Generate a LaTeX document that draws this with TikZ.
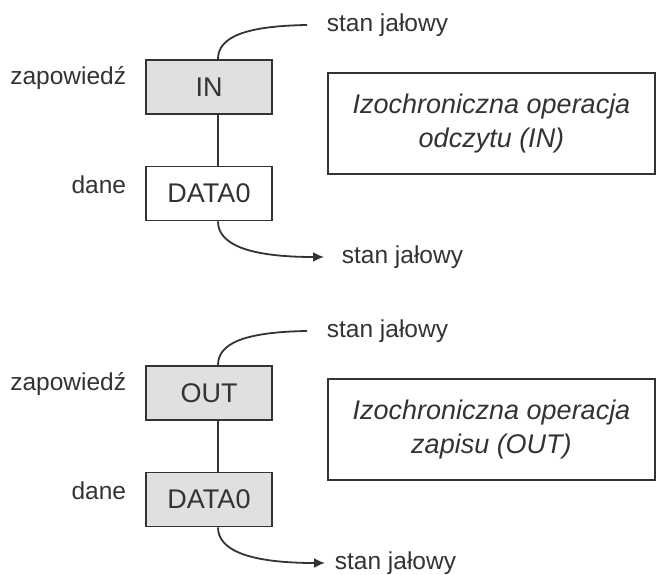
\documentclass[tikz,border=0pt]{standalone}
\usepackage{fontspec}
\setmainfont{Liberation Sans}
\usetikzlibrary{arrows.meta}

\begin{document}
\begin{tikzpicture}[x=1pt,y=-1pt,line width=1.8pt,color=black!80,
  pakiet/.style={draw,fill=black!12,minimum width=126pt,minimum height=54pt,inner sep=0pt,font=\fontsize{27}{32}\selectfont},
  opis/.style={draw,line width=1.5pt,minimum width=327pt,minimum height=101pt,align=center,font=\fontsize{27}{34}\selectfont\itshape},
  etykieta/.style={font=\fontsize{24.5}{29}\selectfont,inner sep=0pt},
  koniec/.style={-{Latex[length=11pt,width=10pt]}}]
\useasboundingbox (0,0) rectangle (656,575);

% Operacja IN
\node[pakiet] (in1) at (209,87) {IN};
\node[pakiet,fill=white] (dane1) at (209,193.5) {DATA0};
\node[opis] (opis1) at (491.5,123.5) {Izochroniczna operacja\\ odczytu (IN)};

\node[etykieta,anchor=east] (zap1) at (127,78) {zapowiedź};
\node[etykieta,anchor=east] (dan1) at (127,185) {dane};
\node[etykieta,anchor=west] (idle1a) at (326,25) {stan jałowy};
\node[etykieta,anchor=west] (idle1b) at (341,257) {stan jałowy};

\draw ([xshift=9pt]in1.south) -- ([xshift=9pt]dane1.north);
\draw ([xshift=9pt]in1.north) .. controls +(0,-22) and +(-62,1) .. ([xshift=-19pt]idle1a.west);
\draw[koniec] ([xshift=9pt]dane1.south) .. controls +(0,22) and +(-78,0) .. ([xshift=-17pt]idle1b.west);

% Operacja OUT
\node[pakiet] (out2) at (209,393) {OUT};
\node[pakiet] (dane2) at (209,499.5) {DATA0};
\node[opis] (opis2) at (491.5,429.5) {Izochroniczna operacja\\ zapisu (OUT)};

\node[etykieta,anchor=east] (zap2) at (127,384) {zapowiedź};
\node[etykieta,anchor=east] (dan2) at (127,491) {dane};
\node[etykieta,anchor=west] (idle2a) at (326,331) {stan jałowy};
\node[etykieta,anchor=west] (idle2b) at (334,563) {stan jałowy};

\draw ([xshift=9pt]out2.south) -- ([xshift=9pt]dane2.north);
\draw ([xshift=9pt]out2.north) .. controls +(0,-22) and +(-62,1) .. ([xshift=-19pt]idle2a.west);
\draw[koniec] ([xshift=9pt]dane2.south) .. controls +(0,22) and +(-78,0) .. ([xshift=-9pt]idle2b.west);
\end{tikzpicture}
\end{document}
